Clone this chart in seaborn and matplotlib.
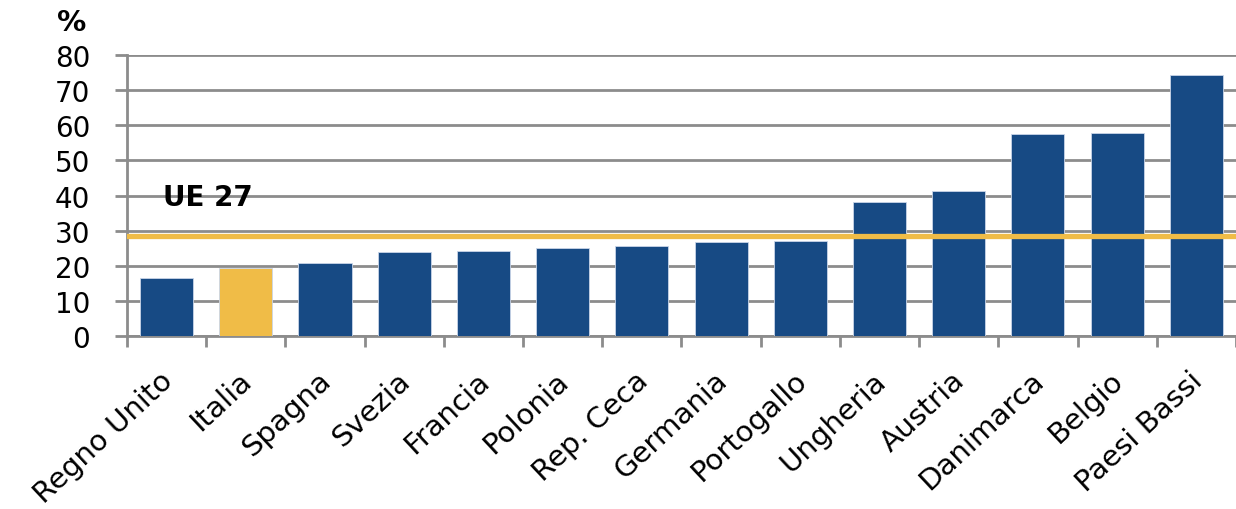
import matplotlib
matplotlib.use("Agg")
import matplotlib.pyplot as plt
import matplotlib.transforms as mtransforms
import seaborn as sns
import numpy as np

# Share of value (%), by country
countries = ["Regno Unito", "Italia", "Spagna", "Svezia", "Francia", "Polonia",
             "Rep. Ceca", "Germania", "Portogallo", "Ungheria", "Austria",
             "Danimarca", "Belgio", "Paesi Bassi"]
values = [16.5, 19.3, 20.8, 24.0, 24.2, 25.1, 25.6, 26.8, 27.2, 38.3, 41.4,
          57.5, 57.9, 74.2]
eu27_value = 28.4
eu27_label = "UE 27"
y_ticks = [0, 10, 20, 30, 40, 50, 60, 70, 80]

NAVY = "#174a84"
GOLD = "#f0bc47"
GRID = "#8c8c8c"
INK = "#000000"

sns.set_theme(style="white")
plt.rcParams["font.family"] = ["DejaVu Sans"]
plt.rcParams["text.color"] = INK
plt.rcParams["xtick.color"] = INK
plt.rcParams["ytick.color"] = INK

fig = plt.figure(figsize=(12.36, 5.10), dpi=100)
ax = fig.add_axes([0.1027, 0.339, 0.8973, 0.551])

palette = {c: (GOLD if c == "Italia" else NAVY) for c in countries}
sns.barplot(x=countries, y=values, hue=countries, palette=palette,
            legend=False, width=0.67, saturation=1, ax=ax,
            edgecolor="#c9d5e8", linewidth=0.6, zorder=3)

ax.set_xlim(-0.5, len(countries) - 0.5)
ax.set_ylim(0, 80)
ax.set_yticks(y_ticks)
ax.set_yticklabels([str(t) for t in y_ticks], fontsize=20)
ax.yaxis.grid(True, color=GRID, linewidth=2, zorder=0)
ax.set_axisbelow(True)

# EU-27 average line and its label
ax.axhline(eu27_value, color=GOLD, linewidth=3.8, zorder=4)
ax.text(-0.05, 39.6, eu27_label, fontsize=20, fontweight="bold",
        color=INK, ha="left", va="center", zorder=5)

# Spines
for side in ["top", "right"]:
    ax.spines[side].set_visible(False)
for side in ["left", "bottom"]:
    ax.spines[side].set_color(GRID)
    ax.spines[side].set_linewidth(2)

# Tick marks at category boundaries; slanted category names below each bar
ax.set_xticks(np.arange(len(countries)))
ax.set_xticklabels([])
ax.set_xticks(np.arange(len(countries) + 1) - 0.5, minor=True)
ax.tick_params(axis="x", which="major", length=0)
ax.tick_params(axis="x", which="minor", length=8, width=2, color=GRID,
               direction="out", bottom=True)
ax.tick_params(axis="y", length=9, width=2, color=GRID, direction="out",
               left=True, pad=17.5)
ax.set_xlabel("")
ax.set_ylabel("")

label_offset = mtransforms.ScaledTranslation(2 / 100, -40 / 100,
                                             fig.dpi_scale_trans)
label_trans = ax.get_xaxis_transform() + label_offset
for i, name in enumerate(countries):
    ax.text(i, 0, name, transform=label_trans, rotation=43,
            rotation_mode="anchor", ha="right", va="center",
            fontsize=21, color=INK, clip_on=False)

fig.text(0.058, 0.955, "%", fontsize=21, fontweight="bold",
         ha="center", va="center")

fig.savefig("out.png", dpi=100)
